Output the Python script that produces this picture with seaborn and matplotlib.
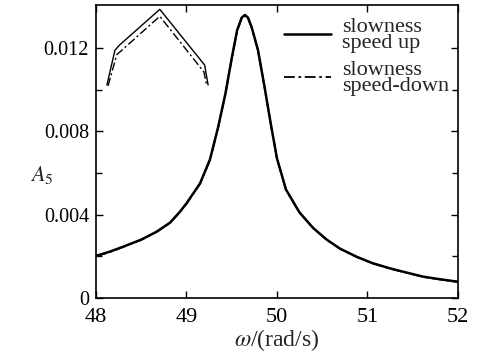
import matplotlib
matplotlib.use("Agg")
import matplotlib.pyplot as plt
import seaborn as sns
import pandas as pd

# Fifth-harmonic amplitude A5 vs. rotational speed (rad/s)
omega_up = [48.00, 48.15, 48.30, 48.50, 48.67, 48.82, 48.93, 49.00, 49.15, 49.26,
            49.35, 49.43, 49.50, 49.56, 49.61, 49.646, 49.68, 49.72, 49.79, 49.86,
            49.93, 50.00, 50.10, 50.25, 50.40, 50.55, 50.70, 50.88, 51.05, 51.25,
            51.45, 51.62, 51.80, 52.00]
amp_up = [0.00202, 0.00222, 0.00246, 0.00280, 0.00318, 0.00362, 0.00415, 0.00454, 0.00550, 0.00665,
          0.00820, 0.00980, 0.01150, 0.01285, 0.01345, 0.01358, 0.01345, 0.01300, 0.01190, 0.01020,
          0.00840, 0.00670, 0.00520, 0.00410, 0.00336, 0.00280, 0.00236, 0.00198, 0.00168, 0.00142,
          0.00120, 0.00102, 0.00090, 0.00078]

omega_down = omega_up
amp_down = [0.00200, 0.00220, 0.00245, 0.00279, 0.00317, 0.00361, 0.00414, 0.00452, 0.00548, 0.00663,
            0.00818, 0.00978, 0.01148, 0.01282, 0.01342, 0.01355, 0.01342, 0.01298, 0.01188, 0.01018,
            0.00838, 0.00668, 0.00519, 0.00409, 0.00335, 0.00279, 0.00235, 0.00197, 0.00167, 0.00141,
            0.00119, 0.00101, 0.00089, 0.00077]

# Magnified view of the resonance peak
zoom_omega_up = [49.606, 49.613, 49.617, 49.652, 49.691, 49.694]
zoom_amp_up = [0.013508, 0.013548, 0.013554, 0.013595, 0.013531, 0.013508]
zoom_omega_down = [49.607, 49.6146, 49.619, 49.652, 49.6904, 49.6928]
zoom_amp_down = [0.013507, 0.013543, 0.013548, 0.013587, 0.013523, 0.013507]

x_ticks = [48, 49, 50, 51, 52]
y_ticks = [0, 0.004, 0.008, 0.012]
y_tick_labels = ["0", "0.004", "0.008", "0.012"]
y_minor = [0.002, 0.006, 0.010]

labels = ["slowness\nspeed up", "slowness\nspeed-down"]

sns.set_style("ticks")
plt.rcParams["font.family"] = ["Liberation Serif", "DejaVu Serif"]
plt.rcParams["mathtext.fontset"] = "stix"

dashdot = (0, (6, 2, 1.5, 2))

fig = plt.figure(figsize=(4.8, 3.55), dpi=100)
ax = fig.add_axes([0.2, 0.1606, 0.754, 0.8254])

df_up = pd.DataFrame({"omega": omega_up, "A": amp_up})
df_down = pd.DataFrame({"omega": omega_down, "A": amp_down})
sns.lineplot(data=df_down, x="omega", y="A", ax=ax, color="black", lw=1.3,
             linestyle=dashdot, label=labels[1])
sns.lineplot(data=df_up, x="omega", y="A", ax=ax, color="black", lw=1.8,
             label=labels[0])

ax.set_xlim(48, 52)
ax.set_ylim(0, 0.01406)
ax.set_xticks(x_ticks)
ax.set_xticklabels([str(t) for t in x_ticks])
ax.set_yticks(y_ticks)
ax.set_yticklabels(y_tick_labels)
ax.set_yticks(y_minor, minor=True)
ax.tick_params(which="both", direction="in", top=True, right=True,
               length=5, width=1, colors="black")
ax.tick_params(which="minor", length=4)
ax.tick_params(axis="x", labelsize=16, pad=7)
ax.tick_params(axis="y", labelsize=14.5, pad=5)
for s in ax.spines.values():
    s.set_linewidth(1.2)
    s.set_color("black")

ax.set_xlabel(r"$\omega$/(rad/s)", fontsize=17, labelpad=0)
ax.set_ylabel(r"$A_5$", fontsize=16, rotation=0, va="center", ha="center")
ax.yaxis.set_label_coords(-0.15, 0.42)

handles, labs = ax.get_legend_handles_labels()
order = [labs.index(labels[0]), labs.index(labels[1])]
leg = ax.legend([handles[i] for i in order], [labs[i] for i in order],
                loc="upper right", bbox_to_anchor=(1.03, 1.025), frameon=False,
                fontsize=16, handlelength=2.1, handletextpad=0.5,
                labelspacing=0.35)
for t in leg.get_texts():
    t.set_linespacing(0.8)

# Inset with the magnified peak
ins = fig.add_axes([100 / 480, 1 - 92 / 355, 115 / 480, 87 / 355])
ins.axis("off")
ins.patch.set_alpha(0)
sns.lineplot(x=zoom_omega_up, y=zoom_amp_up, ax=ins, color="black", lw=1.0)
sns.lineplot(x=zoom_omega_down, y=zoom_amp_down, ax=ins, color="black", lw=1.0,
             linestyle=dashdot)
ins.set_xlim(49.60, 49.70)
ins.set_ylim(0.01350, 0.01360)

fig.savefig("out.png", dpi=100)
